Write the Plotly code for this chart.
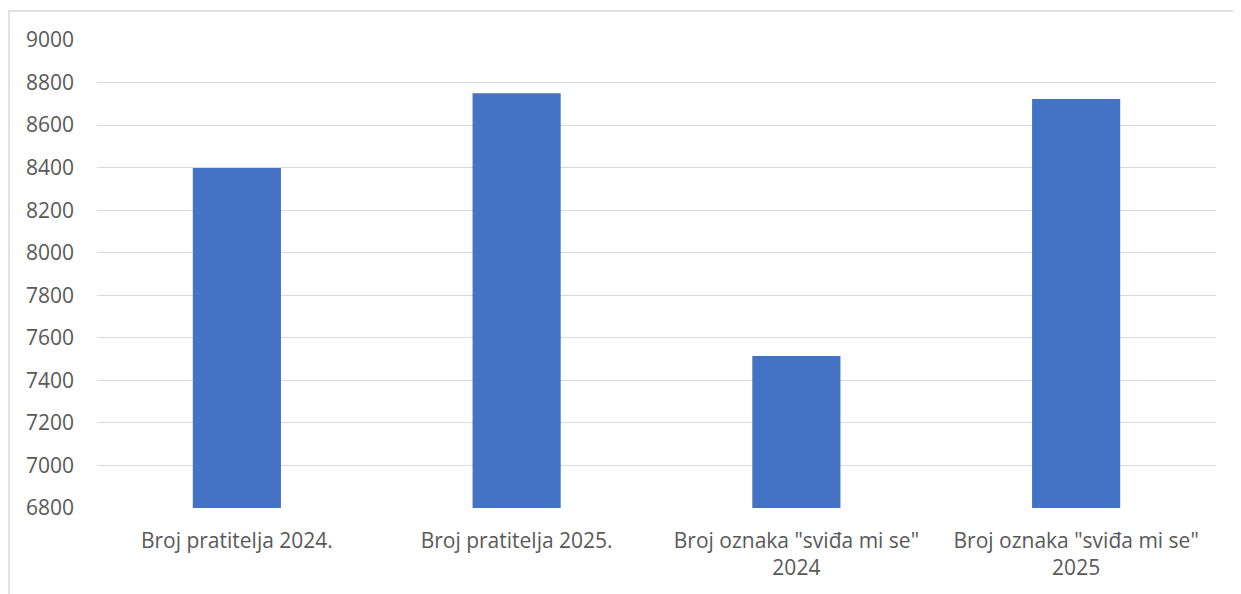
import plotly.graph_objects as go

categories = ["Broj pratitelja 2024.", "Broj pratitelja 2025.",
              "Broj oznaka \"sviđa mi se\"<br>2024", "Broj oznaka \"sviđa mi se\"<br>2025"]
values = [8398, 8750, 7515, 8723]
y_ticks = [6800, 7000, 7200, 7400, 7600, 7800, 8000, 8200, 8400, 8600, 8800, 9000]

# page body has an 8px margin, so the figure is sized/offset accordingly
W, H = 1233, 586
L, R, T, B = 89, 25, 32, 86
pw = W - L - R
ph = H - T - B

FONT = "'Open Sans', 'Noto Sans', sans-serif"

fig = go.Figure(go.Bar(x=categories, y=values, marker=dict(color="#4472C4", line=dict(width=0)),
                       width=0.315))

fig.update_layout(
    width=W, height=H,
    margin=dict(l=L, r=R, t=T, b=B),
    paper_bgcolor="white", plot_bgcolor="white",
    font=dict(family=FONT, size=21, color="#595959"),
    showlegend=False,
)
fig.update_xaxes(showgrid=False, showline=False, ticks="", ticklabelstandoff=18,
                 tickfont=dict(family=FONT, size=21, color="#595959"))
fig.update_yaxes(range=[6800, 9000], tickvals=y_ticks, showgrid=True, gridcolor="#d9d9d9", gridwidth=1.3,
                 zeroline=False, showline=False, ticks="", ticklabelstandoff=22,
                 tickfont=dict(family=FONT, size=21, color="#595959"))

# chart-area border (top and left visible)
x0 = (1 - L) / pw
ytop = (H - B - 3) / ph
fig.add_shape(type="rect", xref="paper", yref="paper", x0=x0, x1=1.2, y0=-0.5, y1=ytop,
              line=dict(color="#d9d9d9", width=1.5), fillcolor="rgba(0,0,0,0)", layer="below")

fig.write_html("out.html")
